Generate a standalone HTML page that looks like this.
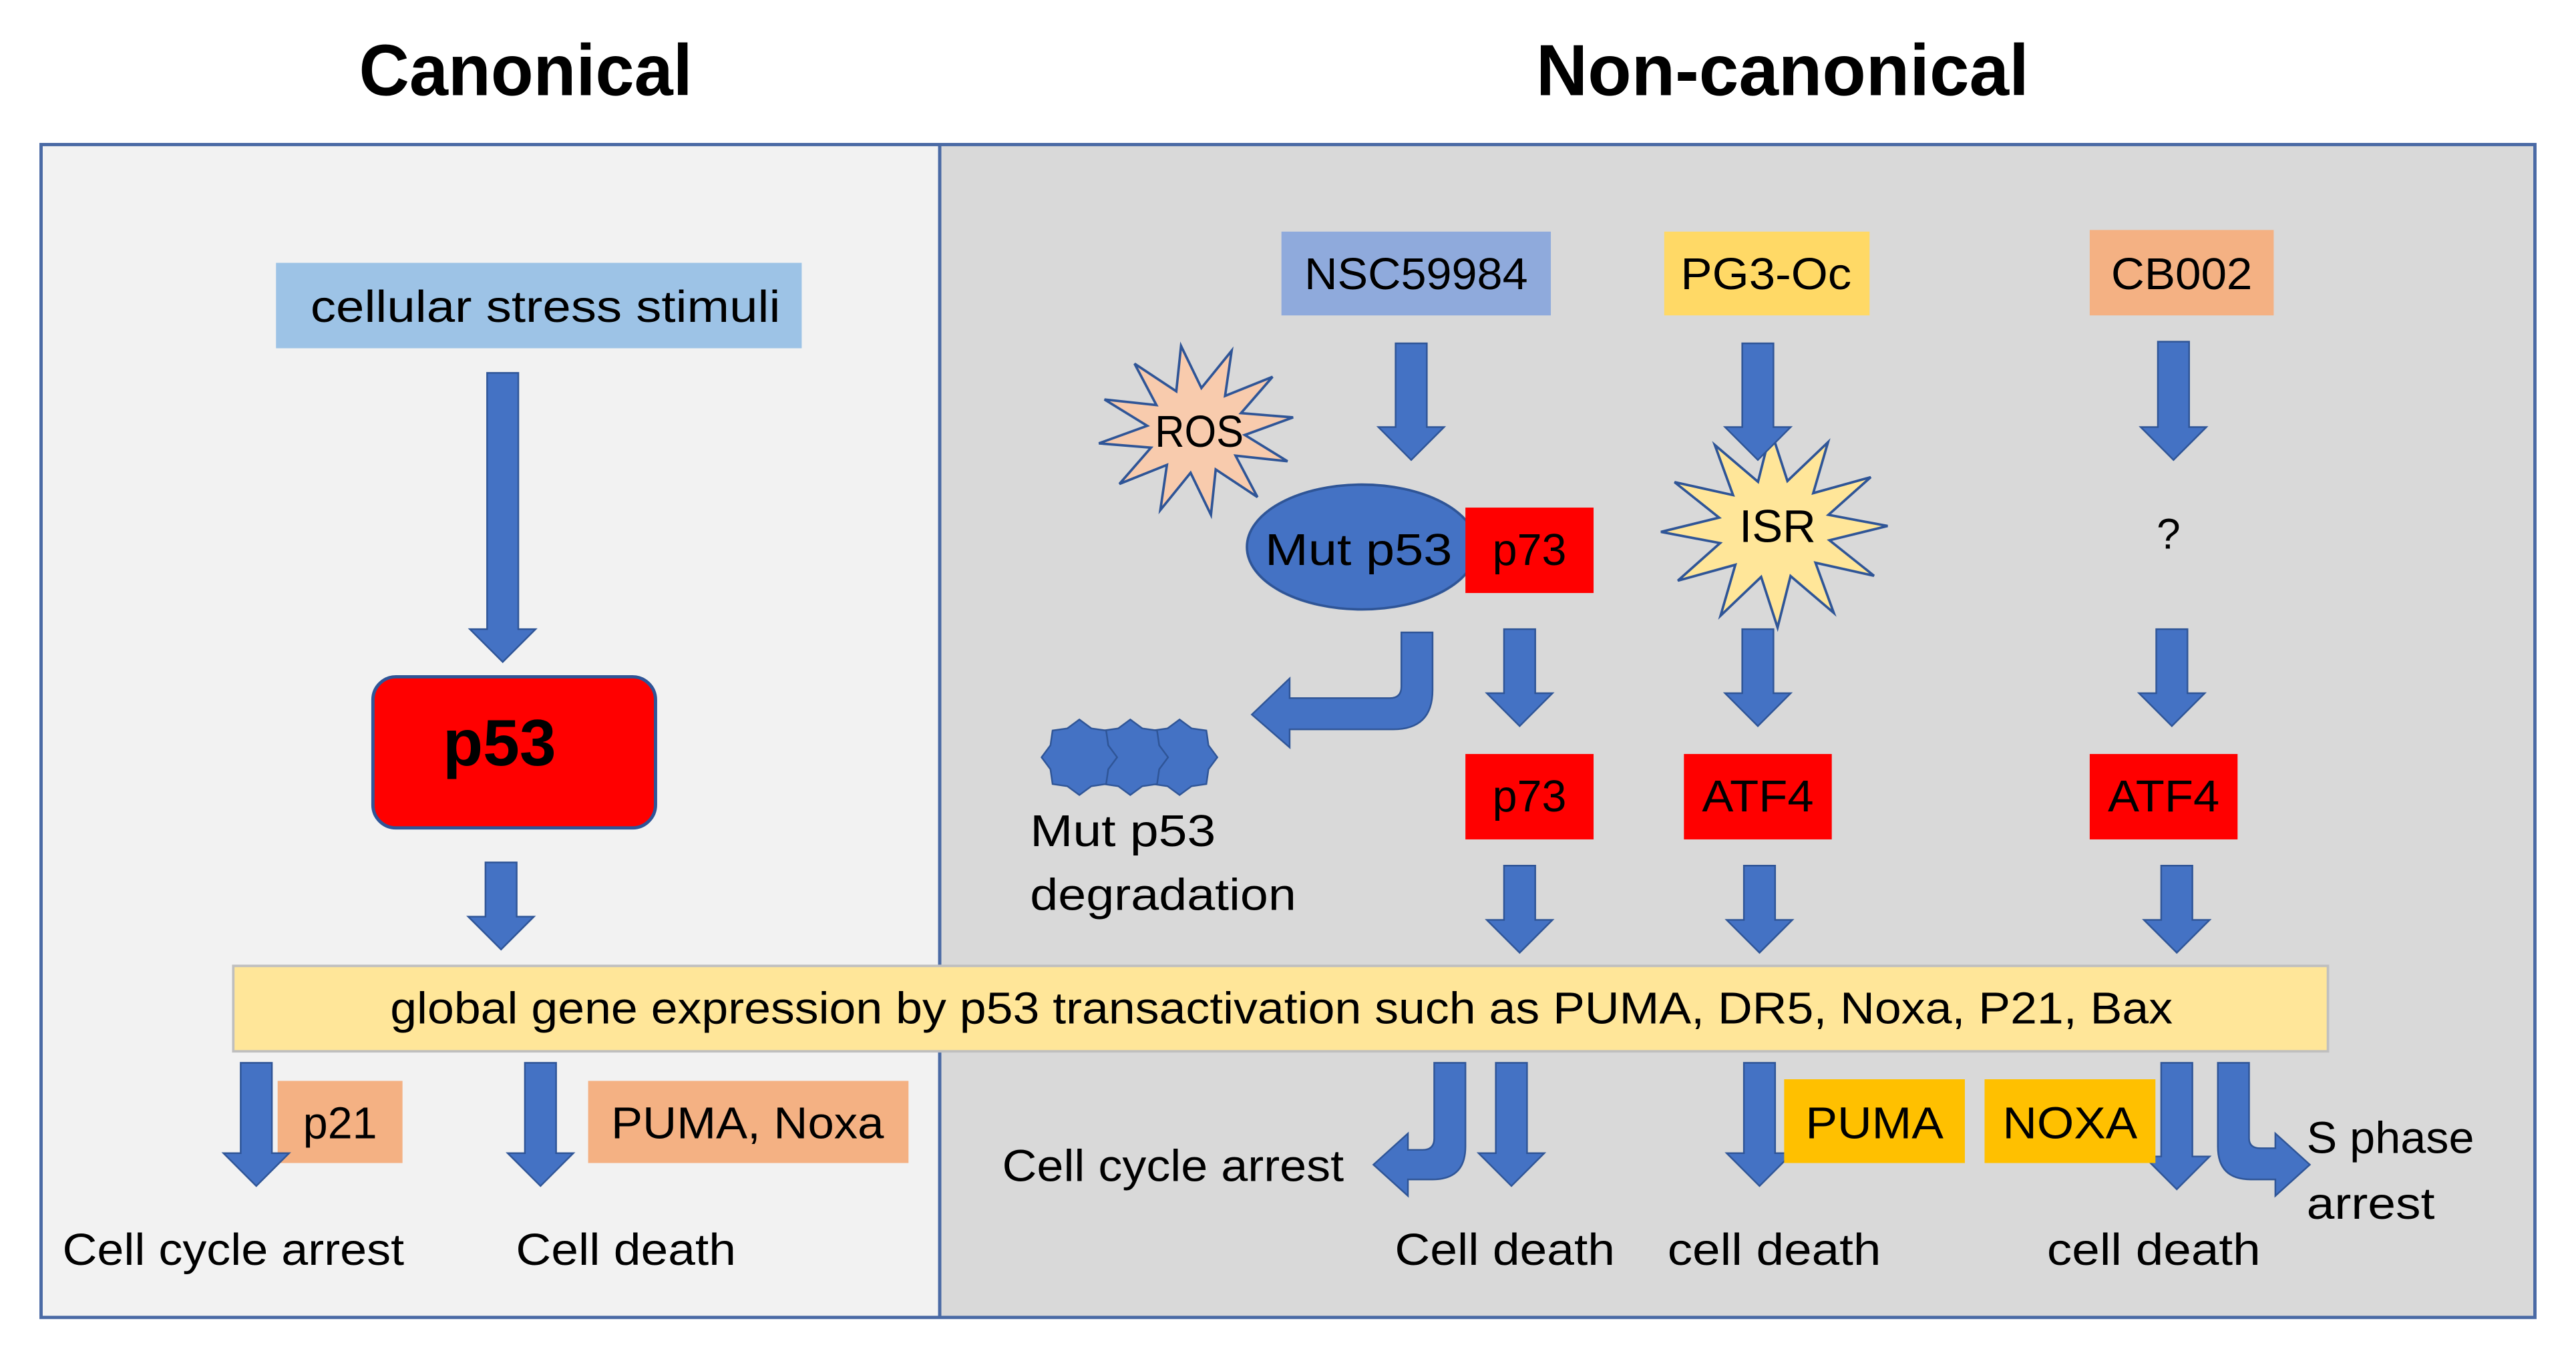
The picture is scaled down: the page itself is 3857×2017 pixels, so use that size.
<!DOCTYPE html>
<html><head><meta charset="utf-8"><style>
html,body{margin:0;padding:0;background:#fff}
svg{display:block}
text{font-family:"Liberation Sans",sans-serif;fill:#000}
</style></head><body>
<svg id="s" width="3857" height="2017" viewBox="0 0 1568 820" preserveAspectRatio="none" xmlns="http://www.w3.org/2000/svg">
<rect width="1568" height="820" fill="#fff"/>
<text x="320" y="58" font-size="44" font-weight="bold" text-anchor="middle" textLength="203" lengthAdjust="spacingAndGlyphs">Canonical</text>
<text x="1085" y="58" font-size="44" font-weight="bold" text-anchor="middle" textLength="300" lengthAdjust="spacingAndGlyphs">Non-canonical</text>
<rect x="25" y="88" width="547" height="714" fill="#f2f2f2"/>
<rect x="572" y="88" width="971" height="714" fill="#d9d9d9"/>
<rect x="25" y="88" width="1518" height="714" fill="none" stroke="#4a6aa5" stroke-width="2"/>
<line x1="572" y1="88" x2="572" y2="802" stroke="#4a6aa5" stroke-width="2"/>

<rect x="168" y="160" width="320" height="52" fill="#9dc3e6"/>
<text x="332" y="196" font-size="27" text-anchor="middle" textLength="286" lengthAdjust="spacingAndGlyphs">cellular  stress stimuli</text>
<rect x="227" y="412" width="172" height="92" rx="14" fill="#ff0000" stroke="#2f5597" stroke-width="2"/>
<text x="304" y="466" font-size="40" font-weight="bold" text-anchor="middle">p53</text>

<rect x="142" y="588" width="1275" height="52" fill="#ffe699" stroke="#bfbfbf" stroke-width="1.5"/>
<text x="780" y="623" font-size="27" text-anchor="middle" textLength="1085" lengthAdjust="spacingAndGlyphs">global gene expression by p53 transactivation such as PUMA, DR5, Noxa, P21, Bax</text>

<rect x="169" y="658" width="76" height="50" fill="#f4b183"/>
<text x="207" y="693" font-size="27" text-anchor="middle">p21</text>
<rect x="358" y="658" width="195" height="50" fill="#f4b183"/>
<text x="455" y="693" font-size="27" text-anchor="middle" textLength="166" lengthAdjust="spacingAndGlyphs">PUMA, Noxa</text>
<text x="38" y="770" font-size="27" textLength="208" lengthAdjust="spacingAndGlyphs">Cell cycle arrest</text>
<text x="314" y="770" font-size="27" textLength="134" lengthAdjust="spacingAndGlyphs">Cell death</text>

<rect x="780" y="141" width="164" height="51" fill="#8faadc"/>
<text x="862" y="176" font-size="27" text-anchor="middle" textLength="136" lengthAdjust="spacingAndGlyphs">NSC59984</text>
<rect x="1013" y="141" width="125" height="51" fill="#ffd966"/>
<text x="1075" y="176" font-size="27" text-anchor="middle" textLength="104" lengthAdjust="spacingAndGlyphs">PG3-Oc</text>
<rect x="1272" y="140" width="112" height="52" fill="#f4b183"/>
<text x="1328" y="176" font-size="27" text-anchor="middle" textLength="86" lengthAdjust="spacingAndGlyphs">CB002</text>

<g id="stars"></g>
<text x="730" y="272" font-size="27" text-anchor="middle" textLength="54" lengthAdjust="spacingAndGlyphs">ROS</text>
<text x="1082" y="330" font-size="28" text-anchor="middle">ISR</text>
<text x="1320" y="334" font-size="26" text-anchor="middle">?</text>

<ellipse cx="829" cy="333" rx="70" ry="38" fill="#4472c4" stroke="#2f5597" stroke-width="1.5"/>
<text x="827" y="344" font-size="27" text-anchor="middle" textLength="114" lengthAdjust="spacingAndGlyphs">Mut p53</text>
<rect x="892" y="309" width="78" height="52" fill="#ff0000"/>
<text x="931" y="344" font-size="27" text-anchor="middle">p73</text>

<g fill="#4472c4" stroke="#2f5597" stroke-width="1">
<path d="M853,385 L872,385 L872,420 Q872,444 848,444 L785,444 L785,455 L762,435 L785,413 L785,425 L846,425 Q853,425 853,418 Z"/>
<path d="M873,647 L892,647 L892,698 Q892,718 872,718 L857,718 L857,728 L836,709 L857,690 L857,700 L866,700 Q873,700 873,693 Z"/>
<path d="M1350,647 L1369,647 L1369,693 Q1369,699 1376,699 L1385,699 L1385,690 L1406,709 L1385,728 L1385,718 L1370,718 Q1350,718 1350,698 Z"/>
</g>
<g id="arrows" fill="#4472c4" stroke="#2f5597" stroke-width="1"></g>
<g id="blobs" fill="#4472c4" stroke="#2f5597" stroke-width="1"></g>

<text x="627" y="515" font-size="27" textLength="113" lengthAdjust="spacingAndGlyphs">Mut p53</text>
<text x="627" y="554" font-size="27" textLength="162" lengthAdjust="spacingAndGlyphs">degradation</text>

<rect x="892" y="459" width="78" height="52" fill="#ff0000"/>
<text x="931" y="494" font-size="27" text-anchor="middle">p73</text>
<rect x="1025" y="459" width="90" height="52" fill="#ff0000"/>
<text x="1070" y="494" font-size="27" text-anchor="middle" textLength="68" lengthAdjust="spacingAndGlyphs">ATF4</text>
<rect x="1272" y="459" width="90" height="52" fill="#ff0000"/>
<text x="1317" y="494" font-size="27" text-anchor="middle" textLength="68" lengthAdjust="spacingAndGlyphs">ATF4</text>

<rect x="1086" y="657" width="110" height="51" fill="#ffc000"/>
<text x="1141" y="693" font-size="27" text-anchor="middle" textLength="84" lengthAdjust="spacingAndGlyphs">PUMA</text>
<rect x="1208" y="657" width="104" height="51" fill="#ffc000"/>
<text x="1260" y="693" font-size="27" text-anchor="middle" textLength="82" lengthAdjust="spacingAndGlyphs">NOXA</text>

<text x="610" y="719" font-size="27" textLength="208" lengthAdjust="spacingAndGlyphs">Cell cycle arrest</text>
<text x="849" y="770" font-size="27" textLength="134" lengthAdjust="spacingAndGlyphs">Cell death</text>
<text x="1015" y="770" font-size="27" textLength="130" lengthAdjust="spacingAndGlyphs">cell death</text>
<text x="1246" y="770" font-size="27" textLength="130" lengthAdjust="spacingAndGlyphs">cell death</text>
<text x="1404" y="702" font-size="27" textLength="102" lengthAdjust="spacingAndGlyphs">S phase</text>
<text x="1404" y="742" font-size="27" textLength="78" lengthAdjust="spacingAndGlyphs">arrest</text>
</svg>
<script>
var NS="http://www.w3.org/2000/svg";
function down(cx,y1,y2,hl){hl=hl||20;var w=9.5,h=20;
 return [[cx-w,y1],[cx+w,y1],[cx+w,y2-hl],[cx+h,y2-hl],[cx,y2],[cx-h,y2-hl],[cx-w,y2-hl]].map(function(p){return p.join(",")}).join(" ");}
var A=[[306,227,403],[305,525,578],[156,647,722],[329,647,722],
[859,209,280],[1070,209,280],[1323,208,280],
[925,383,442],[1070,383,442],[1322,383,442],
[925,527,580],[1071,527,580],[1325,527,580],
[920,647,722],[1071,647,722],[1325,647,724]];
var g=document.getElementById("arrows");
A.forEach(function(a){var p=document.createElementNS(NS,"polygon");p.setAttribute("points",down(a[0],a[1],a[2]));g.appendChild(p);});
function star(cx,cy,ro,ri,n,fill,rot){var pts=[];for(var i=0;i<2*n;i++){var r=i%2?ri:ro;var t=rot+Math.PI*i/n;pts.push((cx+r*Math.cos(t)*1.15).toFixed(1)+","+(cy+r*Math.sin(t)).toFixed(1));}
 var p=document.createElementNS(NS,"polygon");p.setAttribute("points",pts.join(" "));p.setAttribute("fill",fill);p.setAttribute("stroke","#2f5597");p.setAttribute("stroke-width","1.5");document.getElementById("stars").appendChild(p);}
star(728,262,52,26,12,"#f8cbad",-1.2);
star(1080,322,60,30,12,"#ffe699",-1.6);
var b=document.getElementById("blobs");
[[718,461],[688,461],[657,461]].forEach(function(c){var pts=[];for(var i=0;i<16;i++){var r=i%2?19:23;var t=Math.PI*i/8-Math.PI/2;pts.push((c[0]+r*Math.cos(t)).toFixed(1)+","+(c[1]+r*Math.sin(t)).toFixed(1));}
 var p=document.createElementNS(NS,"polygon");p.setAttribute("points",pts.join(" "));b.appendChild(p);});
</script>
</body></html>
